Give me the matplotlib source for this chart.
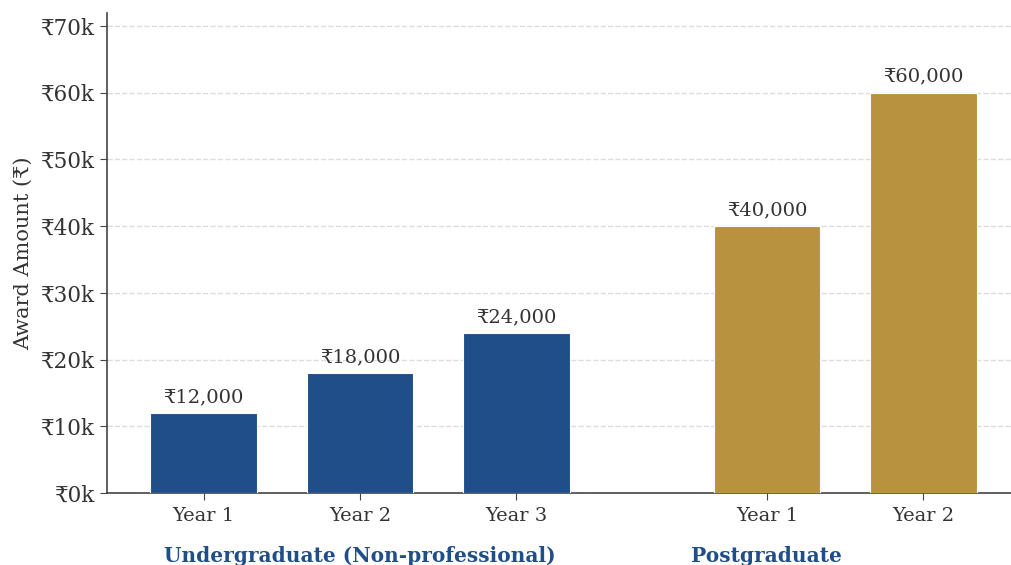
import matplotlib.pyplot as plt
from matplotlib.ticker import FuncFormatter
import matplotlib.transforms as mtransforms

plt.rcParams['font.family'] = ['DejaVu Serif']

# award amounts per year of study
years = ["Year 1", "Year 2", "Year 3", "Year 1", "Year 2"]
amounts = [12000, 18000, 24000, 40000, 60000]
groups = ["Undergraduate (Non-professional)", "Postgraduate"]
group_of_bar = [0, 0, 0, 1, 1]

positions = [0, 1, 2, 3.6, 4.6]
group_label_x = [1, 3.6]
blue = "#1f4e89"
gold = "#b8923e"
text_col = "#333333"
colors = [blue if g == 0 else gold for g in group_of_bar]

fig = plt.figure(figsize=(10.12, 5.65), dpi=100)
ax = fig.add_axes([0.1057, 0.1274, 0.8933, 0.8501])

bars = ax.bar(positions, amounts, width=0.68, color=colors,
              edgecolor="white", linewidth=0.8, zorder=3)

for b, v in zip(bars, amounts):
    ax.annotate(f"₹{v:,}", (b.get_x() + b.get_width() / 2, v),
                xytext=(0, 5), textcoords="offset points",
                ha="center", va="bottom", fontsize=14, color=text_col)

ax.set_ylim(0, 72000)
ax.set_xlim(-0.617, 5.16)
ax.yaxis.set_major_formatter(FuncFormatter(lambda v, p: f"₹{int(v/1000)}k"))
ax.set_yticks(range(0, 70001, 10000))
ax.set_xticks(positions)
ax.set_xticklabels(years)

ax.tick_params(axis="y", labelsize=15.5, colors="#444444", labelcolor=text_col,
               length=5, direction="out")
ax.tick_params(axis="x", labelsize=14, colors="#444444", labelcolor=text_col,
               length=5, direction="out", pad=5)
ax.set_ylabel("Award Amount (₹)", fontsize=15, color=text_col, labelpad=6)

ax.grid(axis="y", linestyle="--", color="#dddddd", linewidth=1, zorder=0)
for s in ["top", "right"]:
    ax.spines[s].set_visible(False)
for s in ["left", "bottom"]:
    ax.spines[s].set_color("#444444")
    ax.spines[s].set_linewidth(1.2)

trans = mtransforms.blended_transform_factory(ax.transData, ax.transAxes)
for gx, name in zip(group_label_x, groups):
    ax.text(gx, -0.131, name, transform=trans, ha="center", va="center",
            fontsize=14.5, fontweight="bold", color=blue)

fig.savefig("out.png", dpi=100)
